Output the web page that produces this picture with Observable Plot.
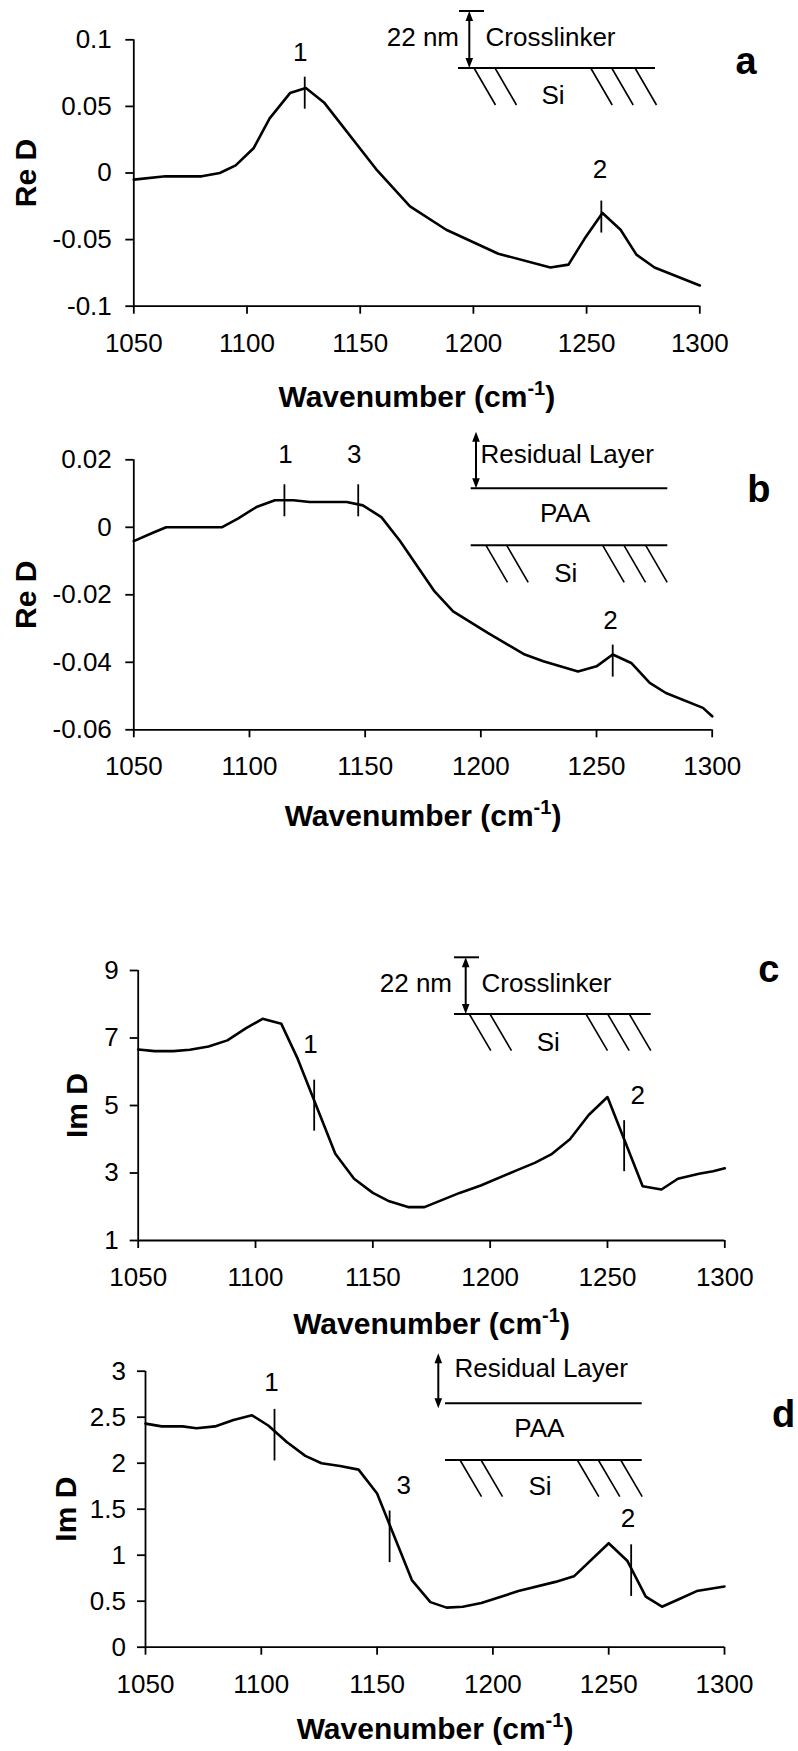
<!DOCTYPE html>
<html><head><meta charset="utf-8">
<script src="https://cdn.jsdelivr.net/npm/d3@7"></script>
<script src="https://cdn.jsdelivr.net/npm/@observablehq/plot@0.6"></script>
<style>
body{margin:0;background:#fff;}
#chart{position:relative;width:798px;height:1751px;background:#fff;overflow:hidden;}
#chart svg{position:absolute;left:0;}
</style></head><body><div id="chart"></div>
<script>
// ---------- data ----------
const xTicks = [1050, 1100, 1150, 1200, 1250, 1300];
const xLabel = "Wavenumber (cm-1)";

// panel a : Re D, crosslinker
const wnA  = [1050, 1064, 1080, 1088, 1095, 1103, 1110, 1119, 1126, 1134, 1157, 1172, 1188, 1211, 1234, 1242, 1249, 1257, 1265, 1272, 1280, 1300];
const reDA = [-0.005, -0.0025, -0.0025, 0, 0.0057, 0.0188, 0.041, 0.060, 0.0638, 0.053, 0.003, -0.025, -0.0426, -0.0606, -0.0709, -0.0688, -0.0496, -0.030, -0.0426, -0.0613, -0.0709, -0.0844];
const yTicksA = [-0.1, -0.05, 0, 0.05, 0.1];
const markWA = [1125.5, 1256.5];
const markVA = [0.0603, -0.0327];
const labWA = [1123.5, 1255.9];
const labVA = [0.0838, -0.0035];
const labTA = ["1", "2"];

// panel b : Re D, residual layer
const wnB  = [1050, 1058, 1064, 1088, 1095, 1103, 1111, 1119, 1126, 1142, 1149, 1157, 1165, 1180, 1188, 1203, 1219, 1227, 1242, 1250, 1257, 1265, 1273, 1280, 1296, 1300];
const reDB = [-0.0041, -0.0017, 0, 0, 0.0026, 0.006, 0.008, 0.008, 0.0075, 0.0075, 0.0065, 0.003, -0.004, -0.019, -0.0249, -0.0313, -0.0377, -0.0397, -0.0427, -0.0412, -0.0377, -0.0402, -0.0461, -0.0491, -0.0535, -0.056];
const yTicksB = [-0.06, -0.04, -0.02, 0, 0.02];
const markWB = [1115.1, 1147, 1257];
const markVB = [0.0080, 0.0080, -0.0395];
const labWB = [1115.6, 1145.3, 1256];
const labVB = [0.0191, 0.0191, -0.0301];
const labTB = ["1", "3", "2"];

// panel c : Im D, crosslinker
const wnC  = [1050, 1057, 1065, 1072, 1080, 1088, 1096, 1103, 1111, 1118, 1134, 1142, 1150, 1157, 1165, 1172, 1187, 1196, 1211, 1219, 1226, 1234, 1242, 1250, 1265, 1273, 1280, 1289, 1295, 1300];
const imDC = [6.66, 6.61, 6.61, 6.65, 6.75, 6.93, 7.29, 7.57, 7.42, 6.38, 3.57, 2.83, 2.41, 2.16, 1.99, 1.99, 2.41, 2.63, 3.07, 3.30, 3.55, 4.0, 4.72, 5.25, 2.61, 2.51, 2.83, 2.98, 3.05, 3.14];
const yTicksC = [1, 3, 5, 7, 9];
const markWC = [1125, 1257.1];
const markVC = [5.01, 3.81];
const labWC = [1123.4, 1262.9];
const labVC = [6.55, 5.03];
const labTC = ["1", "2"];

// panel d : Im D, residual layer
const wnD  = [1050, 1057, 1066, 1072, 1080, 1088, 1096, 1103, 1111, 1119, 1126, 1134, 1142, 1150, 1165, 1173, 1180, 1187, 1195, 1211, 1227, 1235, 1250, 1258, 1266, 1273, 1281, 1288, 1300];
const imDD = [2.43, 2.40, 2.40, 2.38, 2.40, 2.47, 2.52, 2.41, 2.23, 2.08, 2.00, 1.97, 1.93, 1.67, 0.73, 0.49, 0.43, 0.44, 0.48, 0.61, 0.71, 0.77, 1.13, 0.94, 0.55, 0.44, 0.53, 0.61, 0.66];
const yTicksD = [0, 0.5, 1, 1.5, 2, 2.5, 3];
const markWD = [1105.7, 1155.4, 1259.7];
const markVD = [2.31, 1.205, 0.8375];
const labWD = [1104.4, 1161.5, 1258.3];
const labVD = [2.79, 1.667, 1.304];
const labTD = ["1", "3", "2"];

// ---------- drawing ----------
const FONT = '"Liberation Sans", Arial, Helvetica, sans-serif';
const vline = {draw(ctx, size) { const r = Math.sqrt(size / Math.PI); ctx.moveTo(0, -r); ctx.lineTo(0, r); }};

const panels = [
  {top: 0, height: 420, mt: 39.3, mb: 114.3, ml: 133.3, mr: 98.7, yDomain: [-0.1, 0.1], yTicks: yTicksA, yPad: 14,
   wn: wnA, vals: reDA, markW: markWA, markV: markVA, markR: 16, labW: labWA, labV: labVA, labT: labTA,
   yLabel: "Re D", yLabelDx: -98.3, xLabelDy: 101, letter: "a", letterDx: 46.2, letterDy: 34,
   inset: {bar: [459, 484, 11], arrow: [469.3, 11, 68], lines: [[458, 655, 68]], hatch: {xs: [474, 495, 590.7, 611.7, 635], y0: 68, y1: 105},
           texts: [["22 nm", 459, 46, "end"], ["Crosslinker", 485.5, 46, "start"], ["Si", 553, 104, "middle"]]}},
  {top: 420, height: 440, mt: 39.3, mb: 130.7, ml: 133.3, mr: 86.3, yDomain: [-0.06, 0.02], yTicks: yTicksB, yPad: 14,
   wn: wnB, vals: reDB, markW: markWB, markV: markVB, markR: 16, labW: labWB, labV: labVB, labT: labTB,
   yLabel: "Re D", yLabelDx: -98.3, xLabelDy: 95.7, letter: "b", letterDx: 46.6, letterDy: 42.4,
   inset: {arrow: [476, 431.7, 488.3], lines: [[470.7, 667.3, 488.3], [470.7, 667.3, 545.3]], hatch: {xs: [486, 506.7, 602.7, 624, 645.7], y0: 545.3, y1: 582.3},
           texts: [["Residual Layer", 480.5, 462.7, "start"], ["PAA", 565, 522.3, "middle"], ["Si", 565.7, 581.7, "middle"]]}},
  {top: 860, height: 480, mt: 110, mb: 100, ml: 137.7, mr: 73.7, yDomain: [1, 9], yTicks: yTicksC, yPad: 11.5,
   wn: wnC, vals: imDC, markW: markWC, markV: markVC, markR: 25.5, labW: labWC, labV: labVC, labT: labTC,
   yLabel: "Im D", yLabelDx: -51.7, xLabelDy: 93.3, letter: "c", letterDx: 44, letterDy: 11.7,
   inset: {bar: [454, 479, 957.3], arrow: [465.7, 957.3, 1014], lines: [[454, 650.7, 1014]], hatch: {xs: [469.3, 490, 586, 607.7, 629.3], y0: 1014, y1: 1050.7},
           texts: [["22 nm", 452, 991.7, "end"], ["Crosslinker", 481.5, 991.7, "start"], ["Si", 548.3, 1050.7, "middle"]]}},
  {top: 1340, height: 411, mt: 30.7, mb: 104.3, ml: 145, mr: 74, yDomain: [0, 3], yTicks: yTicksD, yPad: 11.5,
   wn: wnD, vals: imDD, markW: markWD, markV: markVD, markR: 25.8, labW: labWD, labV: labVD, labT: labTD,
   yLabel: "Im D", yLabelDx: -70, xLabelDy: 91.6, letter: "d", letterDx: 59, letterDy: 55.3,
   inset: {arrow: [438.3, 1353.3, 1408.3], lines: [[445, 641.7, 1403.3], [445, 641.7, 1460]], hatch: {xs: [460, 481, 577.3, 598.3, 620.7], y0: 1460, y1: 1496.7},
           texts: [["Residual Layer", 454.5, 1377.3, "start"], ["PAA", 539.3, 1436.7, "middle"], ["Si", 540, 1495, "middle"]]}}
];

const chart = document.getElementById("chart");

for (const p of panels) {
  const series = p.wn.map((w, i) => ({w, v: p.vals[i]}));
  const marks = p.markW.map((w, i) => ({w, v: p.markV[i]}));
  const labs = p.labW.map((w, i) => ({w, v: p.labV[i], t: p.labT[i]}));
  const svgEl = Plot.plot({
    width: 798, height: p.height,
    marginTop: p.mt, marginBottom: p.mb, marginLeft: p.ml, marginRight: p.mr,
    style: {fontFamily: FONT, fontSize: "26px", background: "transparent", color: "#000", overflow: "visible"},
    x: {domain: [1050, 1300]},
    y: {domain: p.yDomain},
    marks: [
      Plot.axisX({ticks: xTicks, tickSize: 8, tickPadding: 19, tickFormat: d => String(d), label: null, strokeWidth: 1.8}),
      Plot.axisY({ticks: p.yTicks, tickSize: 8, tickPadding: p.yPad, tickFormat: d => String(d), label: null, strokeWidth: 1.8}),
      Plot.ruleX([1050], {stroke: "#000", strokeWidth: 1.8}),
      Plot.ruleY([p.yDomain[0]], {stroke: "#000", strokeWidth: 1.8}),
      Plot.line(series, {x: "w", y: "v", stroke: "#000", strokeWidth: 2.6, strokeLinejoin: "round"}),
      Plot.dot(marks, {x: "w", y: "v", r: p.markR, symbol: vline, fill: "none", stroke: "#000", strokeWidth: 1.8}),
      Plot.text(labs, {x: "w", y: "v", text: "t", lineAnchor: "bottom", textAnchor: "middle", fontSize: 26, fill: "#000"}),
      Plot.text([p.yLabel], {frameAnchor: "left", dx: p.yLabelDx, rotate: -90, textAnchor: "middle", lineAnchor: "bottom", fontWeight: "bold", fontSize: 30, fill: "#000"}),
      Plot.text([xLabel], {frameAnchor: "bottom", dy: p.xLabelDy, textAnchor: "middle", lineAnchor: "bottom", fontWeight: "bold", fontSize: 30, fill: "#000"}),
      Plot.text([p.letter], {frameAnchor: "top-right", dx: p.letterDx, dy: p.letterDy, textAnchor: "middle", lineAnchor: "bottom", fontWeight: "bold", fontSize: 38, fill: "#000"})
    ]
  });
  svgEl.style.top = p.top + "px";
  chart.appendChild(svgEl);

  const svg = d3.select(svgEl);
  // superscript in the x label
  svg.selectAll("text").filter(function() { return this.textContent === xLabel; }).each(function() {
    const t = d3.select(this);
    t.text(null);
    t.append("tspan").text("Wavenumber (cm");
    t.append("tspan").attr("dy", -12).attr("font-size", 20).text("-1");
    t.append("tspan").attr("dy", 12).text(")");
  });

  // layer schematic
  const ins = p.inset;
  const g = svg.append("g").attr("transform", `translate(0,${-p.top})`)
    .attr("stroke", "#000").attr("stroke-width", 2).attr("fill", "none");
  if (ins.bar) g.append("line").attr("x1", ins.bar[0]).attr("x2", ins.bar[1]).attr("y1", ins.bar[2]).attr("y2", ins.bar[2]);
  const [ax, ay0, ay1] = ins.arrow;
  g.append("line").attr("x1", ax).attr("x2", ax).attr("y1", ay0 + 6).attr("y2", ay1 - 6);
  g.append("path").attr("fill", "#000").attr("stroke", "none")
    .attr("d", `M${ax},${ay0}L${ax - 3.8},${ay0 + 10}L${ax + 3.8},${ay0 + 10}Z M${ax},${ay1}L${ax - 3.8},${ay1 - 10}L${ax + 3.8},${ay1 - 10}Z`);
  for (const [x1, x2, y] of ins.lines) g.append("line").attr("x1", x1).attr("x2", x2).attr("y1", y).attr("y2", y);
  for (const x of ins.hatch.xs) g.append("line").attr("x1", x).attr("y1", ins.hatch.y0).attr("x2", x + 21.5).attr("y2", ins.hatch.y1).attr("stroke-width", 1.6);
  for (const [s, x, y, anchor] of ins.texts) {
    g.append("text").attr("x", x).attr("y", y).attr("text-anchor", anchor)
      .attr("fill", "#000").attr("stroke", "none").attr("font-size", 26).text(s);
  }
}
</script>
</body></html>
